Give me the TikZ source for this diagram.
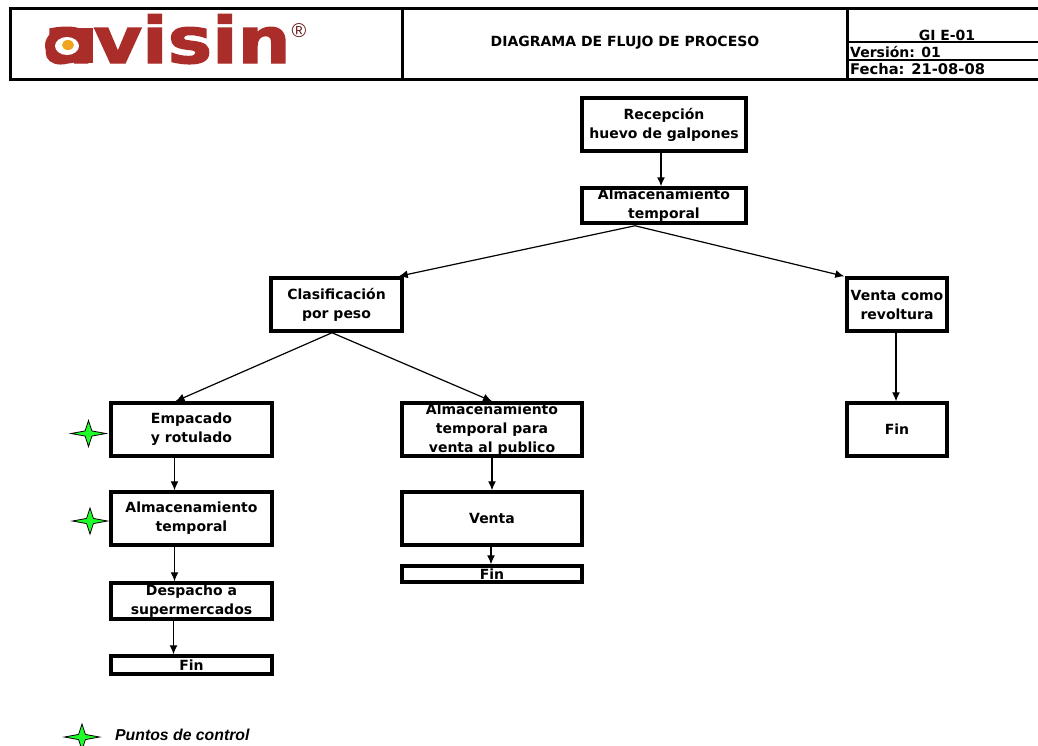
\documentclass[tikz,border=0pt]{standalone}
\usepackage{xcolor}
\usepackage{fontspec}
\setmainfont{DejaVu Sans}
\newfontfamily\legendfont{Liberation Sans}
\newfontfamily\logofont[FakeBold=2]{DejaVu Sans Bold}
\usepackage{tikz}
\usetikzlibrary{arrows.meta,shapes.geometric}
\definecolor{logored}{RGB}{170,45,42}
\definecolor{eggyellow}{RGB}{240,165,30}
\definecolor{starsgreen}{RGB}{30,255,40}

\begin{document}
\begin{tikzpicture}[x=1pt,y=-1pt,
    flowbox/.style={draw, line width=3.5pt, inner sep=0pt, align=center, font=\fontsize{14}{19}\selectfont\bfseries},
    flowline/.style={-{Latex[length=9pt,width=8pt]}, line width=1.2pt},
    headline/.style={line width=3pt},
    headtext/.style={inner sep=0pt, font=\fontsize{14}{17}\selectfont\bfseries},
    ctrlstar/.style={draw, line width=0.8pt, fill=starsgreen, shape=star, star points=4, star point ratio=3.6, inner sep=0pt, minimum size=26pt, xscale=1.35}
]
    \useasboundingbox (0,0) rectangle (1038,745);

    % Header
    \coordinate (headnw) at (10,8);
    \coordinate (headne) at (1038,8);
    \coordinate (headse) at (1038,79);
    \coordinate (headsw) at (10,79);
    \draw[headline] (headne) -- (headnw) -- (headsw) -- (headse);
    \coordinate (divlt) at (402,8);
    \coordinate (divlb) at (402,79);
    \coordinate (divrt) at (847,8);
    \coordinate (divrb) at (847,79);
    \draw[headline] (divlt) -- (divlb);
    \draw[headline] (divrt) -- (divrb);
    \coordinate (rowa) at (847,42);
    \coordinate (rowae) at (1038,42);
    \coordinate (rowb) at (847,60);
    \coordinate (rowbe) at (1038,60);
    \draw[line width=2pt] (rowa) -- (rowae);
    \draw[line width=2pt] (rowb) -- (rowbe);

    % Logo
    \node[inner sep=0pt, anchor=base west, text=logored, xscale=1.165, font=\fontsize{64}{64}\selectfont\logofont] (logo) at (43,63) {avisin};
    \fill[logored] (67,45.5) ellipse (22 and 18);
    \fill[logored] (79,28) rectangle (93,63);
    \fill[white] (67,46) ellipse (12 and 9);
    \fill[eggyellow] (68,45) ellipse (6 and 5);
    \node[inner sep=0pt, text=logored!60!black, font=\fontsize{20}{20}\selectfont\legendfont] (regmark) at (299,31) {\textregistered};

    \node[headtext] (title) at (625,43) {DIAGRAMA DE FLUJO DE PROCESO};
    \node[headtext] (code) at (947,35) {GI E-01};
    \node[headtext, anchor=west] (version) at (850,52) {Versión: 01};
    \node[headtext, anchor=west, font=\fontsize{14.7}{17}\selectfont\bfseries] (date) at (850,69) {Fecha: 21-08-08};

    % Main line
    \node[flowbox, minimum width=164pt, minimum height=53pt] (recep) at (664,124.5) {Recepción\\huevo de galpones};
    \node[flowbox, minimum width=164pt, minimum height=35pt] (almgen) at (664,205.5) {Almacenamiento\\temporal};
    \node[flowbox, minimum width=131pt, minimum height=53pt] (clasif) at (336.5,304.5) {Clasificación\\por peso};
    \node[flowbox, minimum width=100pt, minimum height=53pt] (revolt) at (897,304.5) {Venta como\\revoltura};
    \node[flowbox, minimum width=100pt, minimum height=53pt] (finrev) at (897,429.5) {Fin};

    % Supermarket branch
    \node[flowbox, minimum width=161pt, minimum height=53pt] (empac) at (191.5,429.5) {Empacado\\y rotulado};
    \node[flowbox, minimum width=161pt, minimum height=53pt] (almsup) at (191.5,518.5) {Almacenamiento\\temporal};
    \node[flowbox, minimum width=161pt, minimum height=36pt] (desp) at (191.5,601) {Despacho a\\supermercados};
    \node[flowbox, minimum width=161pt, minimum height=18pt] (finsup) at (191.5,665) {Fin};

    % Public sale branch
    \node[flowbox, minimum width=180pt, minimum height=53pt] (almpub) at (492,429.5) {Almacenamiento\\temporal para\\venta al publico};
    \node[flowbox, minimum width=180pt, minimum height=53pt] (venta) at (492,518.5) {Venta};
    \node[flowbox, minimum width=180pt, minimum height=16pt] (finpub) at (492,574) {Fin};

    % Connectors
    \draw[flowline] ([xshift=-3pt]recep.south) -- ([xshift=-3pt]almgen.north);
    \draw[flowline] ([xshift=-29pt,yshift=-1pt]almgen.south) -- ([xshift=-5pt]clasif.north east);
    \draw[flowline] ([xshift=-29pt,yshift=-1pt]almgen.south) -- ([xshift=-1pt]revolt.north west);
    \draw[flowline] ([xshift=-4.5pt]clasif.south) -- ([xshift=-16pt]empac.north);
    \draw[flowline] ([xshift=-4.5pt]clasif.south) -- (almpub.north);
    \draw[flowline] ([xshift=-1pt]revolt.south) -- ([xshift=-1pt]finrev.north);
    \draw[flowline] ([xshift=-17pt]empac.south) -- ([xshift=-17pt]almsup.north);
    \draw[flowline] ([xshift=-17pt]almsup.south) -- ([xshift=-17pt]desp.north);
    \draw[flowline] ([xshift=-18pt]desp.south) -- ([xshift=-18pt]finsup.north);
    \draw[flowline] (almpub.south) -- (venta.north);
    \draw[flowline] ([xshift=-1pt]venta.south) -- ([xshift=-1pt]finpub.north);

    % Control points
    \node[ctrlstar] (stara) at (88.5,433.5) {};
    \node[ctrlstar] (starb) at (90,521) {};
    \node[ctrlstar] (starc) at (82,737) {};
    \node[anchor=west, inner sep=0pt, font=\fontsize{15.8}{17}\selectfont\legendfont\bfseries\itshape] (legend) at (115,735) {Puntos de control};
\end{tikzpicture}
\end{document}
